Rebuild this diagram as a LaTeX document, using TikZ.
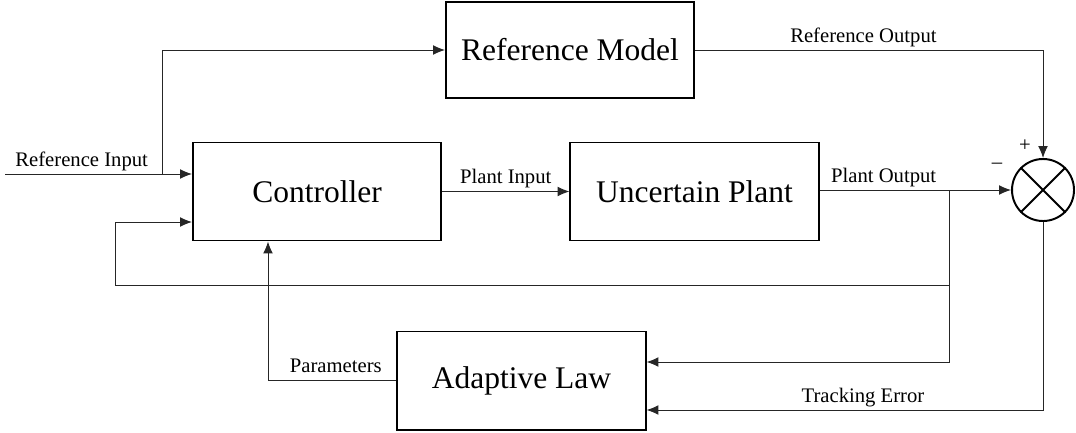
\documentclass[tikz,border=0pt]{standalone}
\usepackage{fontspec}
\setmainfont{Liberation Serif}
\usepackage{tikz}
\usetikzlibrary{calc,shapes,arrows.meta}
\usepackage{xcolor}

\begin{document}
\begin{tikzpicture}[x=0.025cm,y=-0.025cm,
		>={Latex[length=8.5pt,width=7pt]},
		block/.style={draw,line width=1.4pt,minimum width=6.2cm,minimum height=2.45cm,
			font=\fontsize{22.4}{26}\selectfont},
		wire/.style={line width=0.7pt,black!85},
		lbl/.style={font=\fontsize{14.7}{17}\selectfont,inner sep=1.5pt,text depth=3.5pt,black}]
		\useasboundingbox (0,0) rectangle (1076,433);
		% blocks
		\node[block,minimum height=2.42cm] (refmod) at (570,50) {Reference Model};
		\node[block] (ctrl) at (317,191.5) {Controller};
		\node[block] (plant) at (694.5,191.5) {Uncertain Plant};
		\node[block] (adapt) at (521.5,380.5) {Adaptive Law};
		\node[draw,circle,line width=1.4pt,minimum size=1.55cm,inner sep=0pt] (sum) at (1043,190) {};
		\draw[line width=1.4pt] (sum.north west) -- (sum.south east) (sum.north east) -- (sum.south west);
		\node[lbl,text depth=0pt] (plus) at (1025,146) {+};
		\node[lbl,text depth=0pt] (minus) at (997,166) {--};
		% branch points
		\coordinate (refin) at (5,174);
		\coordinate (split) at (162,174);
		\coordinate (tap) at (949,190);
		\coordinate (fb) at (949,285);
		\coordinate (fbl) at (115,285);
		% connectors
		\draw[wire,->] (refin) -- node[lbl,above,pos=0.41] {Reference Input} (ctrl.west |- refin);
		\draw[wire,->] (split) |- (refmod);
		\draw[wire,->] (ctrl) -- node[lbl,above] {Plant Input} (plant);
		\draw[wire,->] (plant.east |- sum) -- node[lbl,above,pos=0.335] {Plant Output} (sum);
		\draw[wire,->] (refmod) -| node[lbl,above,pos=0.242] {Reference Output} (sum);
		\draw[wire,->] (tap) |- ($(adapt.east)+(0,-18.5)$);
		\draw[wire,->] (fb) -- (fbl) |- ($(ctrl.west)+(0,30.5)$);
		\draw[wire,->] (sum) |- node[lbl,above,pos=0.727] {Tracking Error} ($(adapt.east)+(0,29.5)$);
		\draw[wire,->] (adapt) -| node[lbl,above,pos=0.236] {Parameters} ($(ctrl.south)+(-49,0)$);
	\end{tikzpicture}
\end{document}
